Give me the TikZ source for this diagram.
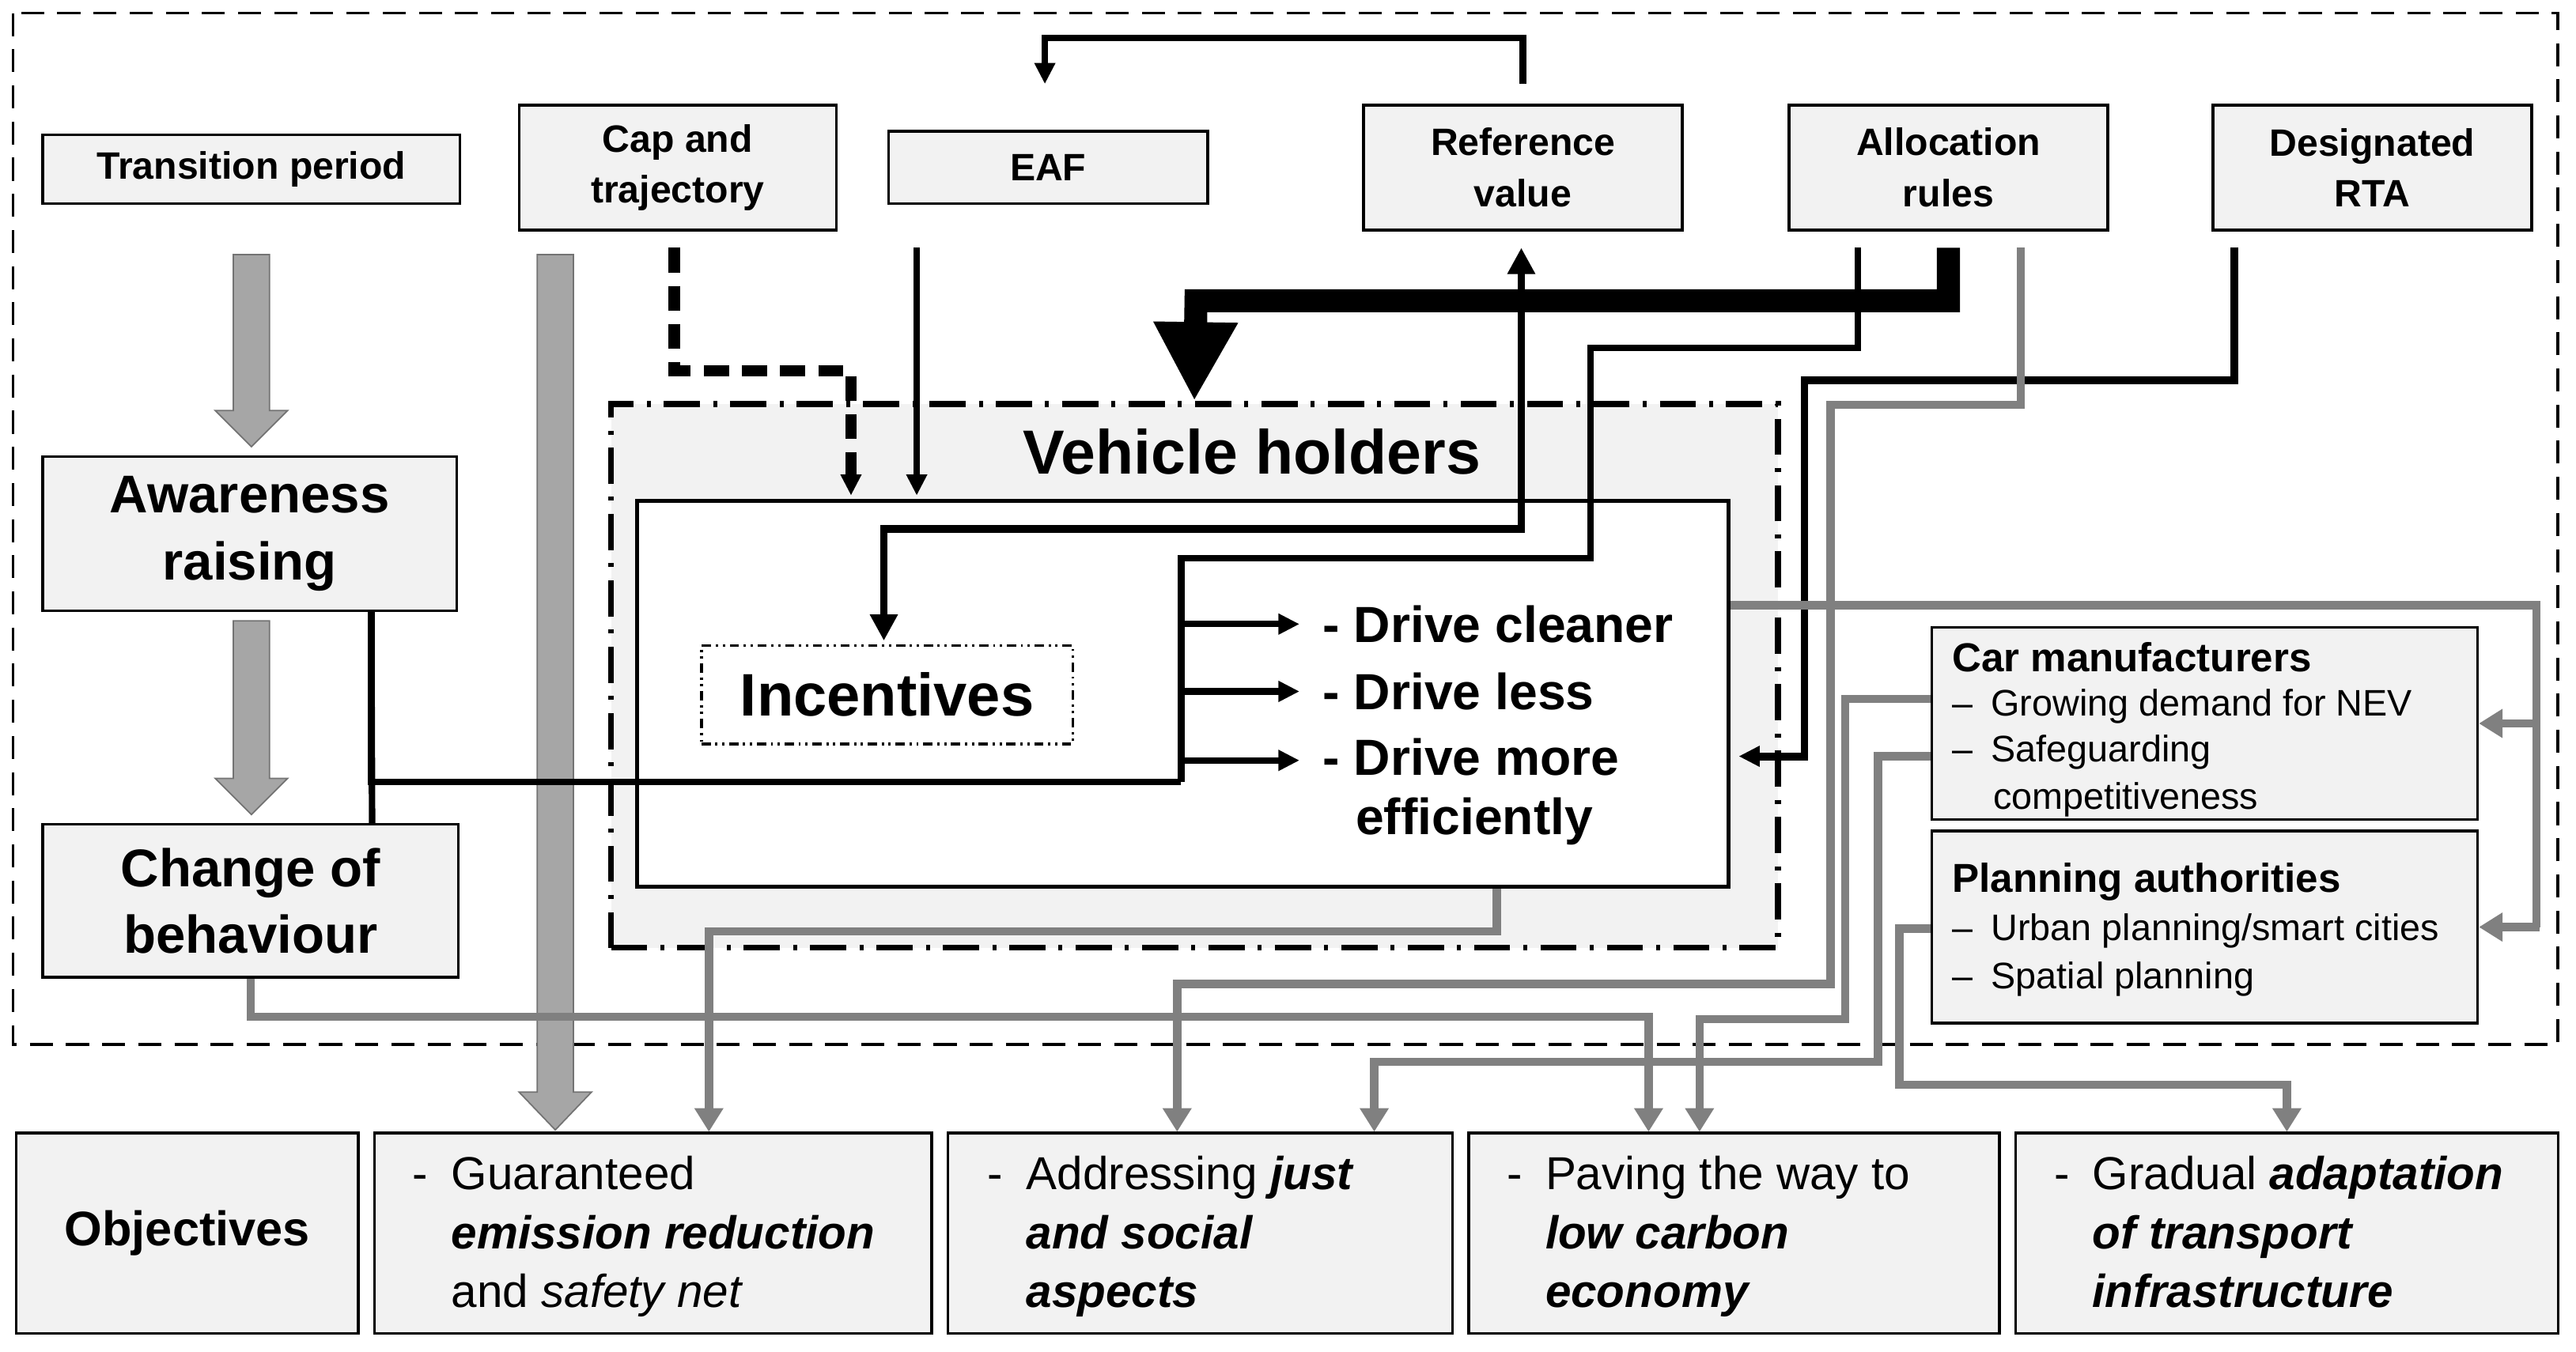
\documentclass[tikz,border=0pt]{standalone}
\usepackage{fontspec}
\setmainfont{Liberation Sans}
\usetikzlibrary{arrows.meta,calc}
\tikzset{
  box/.style={draw, line width=1.2pt, fill=black!5, align=center, inner sep=0pt},
  toplbl/.style={font=\bfseries\fontsize{16.5}{22}\selectfont},
  blk/.style={line width=2.8pt},
  gry/.style={line width=3.6pt, draw=black!50},
  tip/.style={-{Triangle[length=0.32cm,width=0.3cm]}},
  gtip/.style={-{Triangle[length=0.36cm,width=0.42cm]}},
  item/.style={anchor=west, inner sep=0pt, font=\fontsize{16}{19}\selectfont},
  obj/.style={anchor=west, inner sep=0pt, align=left, font=\fontsize{20}{25.6}\selectfont},
  drv/.style={anchor=west, inner sep=0pt, font=\bfseries\fontsize{22}{25}\selectfont}
}
\begin{document}
\begin{tikzpicture}[x=0.025cm,y=-0.025cm]
    \useasboundingbox (0,0) rectangle (1568,823);
    %% outer frame
    \draw[line width=1.2pt, dash pattern=on 0.35cm off 0.2cm] (8,8) rectangle (1557,636);
    %% top row
    \node[box, toplbl, minimum width=6.35cm, minimum height=1.05cm] (trans) at (153,103) {Transition period};
    \node[box, toplbl, minimum width=4.825cm, minimum height=1.9cm] (cap) at (412.5,102) {Cap and\\trajectory};
    \node[box, toplbl, minimum width=4.85cm, minimum height=1.1cm] (eaf) at (638,102) {EAF};
    \node[box, toplbl, minimum width=4.85cm, minimum height=1.9cm] (ref) at (927,102) {Reference\\value};
    \node[box, toplbl, minimum width=4.85cm, minimum height=1.9cm] (alloc) at (1186,102) {Allocation\\rules};
    \node[box, toplbl, minimum width=4.85cm, minimum height=1.9cm] (rta) at (1444,102) {Designated\\RTA};
    %% left column
    \node[box, font=\bfseries\fontsize{23}{29}\selectfont, minimum width=6.3cm, minimum height=2.35cm] (aware) at (152,325) {Awareness\\raising};
    \node[box, font=\bfseries\fontsize{23}{29}\selectfont, minimum width=6.325cm, minimum height=2.325cm] (change) at (152.5,548.5) {Change of\\behaviour};
    %% vehicle holders
    \node[draw, fill=black!5, line width=2.6pt, dash pattern=on 0.55cm off 0.2cm on 0.06cm off 0.2cm, minimum width=17.75cm, minimum height=8.275cm] (vh) at (727,411.5) {};
    \node[font=\bfseries\fontsize{27}{30}\selectfont] (vhl) at (762,275) {Vehicle holders};
    \node[draw, fill=white, line width=1.8pt, minimum width=16.6cm, minimum height=5.875cm] (inner) at (720,422.5) {};
    \node[draw, line width=1.2pt, dash pattern=on 4pt off 2pt on 1pt off 2pt on 1pt off 2pt, minimum width=5.65cm, minimum height=1.5cm, font=\bfseries\fontsize{26}{30}\selectfont] (inc) at (540,423) {Incentives};
    \node[drv] (d1) at (805,380) {- Drive cleaner};
    \node[drv] (d2) at (805,421) {- Drive less};
    \node[drv] (d3) at (805,461) {- Drive more};
    \node[drv] (d4) at (825,500) {efficiently};
    %% stakeholders
    \node[box, minimum width=8.3cm, minimum height=2.925cm] (carm) at (1342,440.5) {};
    \node[box, minimum width=8.3cm, minimum height=2.925cm] (plan) at (1342,564.5) {};
    \node[item, font=\bfseries\fontsize{17.5}{20}\selectfont] (carmt) at (1188,400) {Car manufacturers};
    \node[item] (c1) at (1188,430) {–\hspace{8pt}Growing demand for NEV};
    \node[item] (c2) at (1188,458) {–\hspace{8pt}Safeguarding};
    \node[item] (c3) at (1213,487) {competitiveness};
    \node[item, font=\bfseries\fontsize{17.5}{20}\selectfont] (plant) at (1188,537) {Planning authorities};
    \node[item] (p1) at (1188,567) {–\hspace{8pt}Urban planning/smart cities};
    \node[item] (p2) at (1188,596) {–\hspace{8pt}Spatial planning};
    %% objectives
    \node[box, font=\bfseries\fontsize{21}{24}\selectfont, minimum width=5.2cm, minimum height=3.05cm] (obj) at (114,751) {Objectives};
    \node[box, minimum width=8.475cm, minimum height=3.05cm] (o1) at (397.5,751) {};
    \node[box, minimum width=7.675cm, minimum height=3.05cm] (o2) at (730.5,751) {};
    \node[box, minimum width=8.075cm, minimum height=3.05cm] (o3) at (1055.5,751) {};
    \node[box, minimum width=8.25cm, minimum height=3.05cm] (o4) at (1392,751) {};
    \node[obj] (o1t) at (251,753) {\begin{tabular}{@{}l@{\hspace{10pt}}l@{}}-&Guaranteed\\&\textbf{\textit{emission reduction}}\\&and \textit{safety net}\end{tabular}};
    \node[obj] (o2t) at (601,753) {\begin{tabular}{@{}l@{\hspace{10pt}}l@{}}-&Addressing \textbf{\textit{just}}\\&\textbf{\textit{and social}}\\&\textbf{\textit{aspects}}\end{tabular}};
    \node[obj] (o3t) at (917,753) {\begin{tabular}{@{}l@{\hspace{10pt}}l@{}}-&Paving the way to\\&\textbf{\textit{low carbon}}\\&\textbf{\textit{economy}}\end{tabular}};
    \node[obj] (o4t) at (1250,753) {\begin{tabular}{@{}l@{\hspace{10pt}}l@{}}-&Gradual \textbf{\textit{adaptation}}\\&\textbf{\textit{of transport}}\\&\textbf{\textit{infrastructure}}\end{tabular}};
    %% grey block arrows
    \filldraw[fill=black!35, draw=black!55, line width=0.6pt] (142,155) -- (164,155) -- (164,250) -- (175,250) -- (153,272) -- (131,250) -- (142,250) -- cycle;
    \filldraw[fill=black!35, draw=black!55, line width=0.6pt] (142,378) -- (164,378) -- (164,474) -- (175,474) -- (153,496) -- (131,474) -- (142,474) -- cycle;
    \filldraw[fill=black!35, draw=black!55, line width=0.6pt] (327,155) -- (349,155) -- (349,665) -- (360,665) -- (338,688) -- (316,665) -- (327,665) -- cycle;
    %% black connectors
    \draw[blk, tip] ($(ref.north)+(0,-12)$) |- ($(eaf.north)+(-2,-56)$) -- ($(eaf.north)+(-2,-28)$);
    \draw[line width=5pt, dash pattern=on 0.38cm off 0.2cm, tip] ($(cap.south)+(-2,10)$) |- ($(inner.north)+(-202,-78)$) -- ($(inner.north)+(-202,-2)$);
    \draw[blk, tip] ($(eaf.south)+(-80,26)$) -- ($(inner.north)+(-162,-2)$);
    \draw[line width=0.35cm, -{Triangle[length=1.2cm,width=1.2cm]}] ($(alloc.south)+(0,10)$) |- ($(vh.north)+(1,-61)$) -- (vh.north);
    \draw[line width=3.4pt, {Triangle[length=0.4cm,width=0.4cm]}-{Triangle[length=0.4cm,width=0.4cm]}] ($(ref.south)+(-1,10)$) |- ($(inc.north)+(-2,-70)$) -- ($(inc.north)+(-2,-2)$);
    \draw[blk] ($(alloc.south)+(-55,10)$) |- ($(inner.north)+(248,-92)$) |- ($(d1.west)+(-86,-40)$) -- ($(d3.west)+(-86,15)$);
    \draw[blk] (aware.south -| 226,0) |- ($(d3.west)+(-86,15)$);
    \draw[blk] ($(aware.south)+(74,0)$) -- ($(change.north)+(74,0)$);
    \draw[blk, tip] ($(d1.west)+(-86,0)$) -- ($(d1.west)+(-14,0)$);
    \draw[blk, tip] ($(d2.west)+(-86,0)$) -- ($(d2.west)+(-14,0)$);
    \draw[blk, tip] ($(d3.west)+(-86,2)$) -- ($(d3.west)+(-14,2)$);
    \draw[line width=3.4pt, tip] ($(rta.south)+(-84,10)$) |- ($(inner.east)+(45,-191)$) |- ($(inner.east)+(5,38)$);
    %% grey connectors
    \draw[gry, gtip] ($(alloc.south)+(44,10)$) |- ($(inner.east)+(61,-176)$) |- ($(o2.north)+(-14,-90)$) -- ($(o2.north)+(-14,0)$);
    \draw[gry] ($(inner.east)+(0,-54)$) -| ($(plan.east)+(35,0)$);
    \draw[gry, gtip] ($(plan.east)+(37,0)$) -- (plan.east);
    \draw[gry, gtip] ($(carm.east)+(37,0)$) -- (carm.east);
    \draw[gry, gtip] ($(inner.south)+(191,0)$) |- ($(o1.north)+(34,-122)$) -- ($(o1.north)+(34,0)$);
    \draw[gry, gtip] (change.south) |- ($(o3.north)+(-52,-70)$) -- ($(o3.north)+(-52,0)$);
    \draw[gry, gtip] ($(carm.west)+(0,-15)$) -| ($(carm.west)+(-52,180)$) -| ($(o3.north)+(-21,0)$);
    \draw[gry, gtip] ($(carm.west)+(0,20)$) -| ($(carm.west)+(-32,206)$) -| ($(o2.north)+(106,0)$);
    \draw[gry, gtip] ($(plan.west)+(0,1)$) -| ($(plan.west)+(-19,96)$) -| (o4.north);
\end{tikzpicture}
\end{document}
